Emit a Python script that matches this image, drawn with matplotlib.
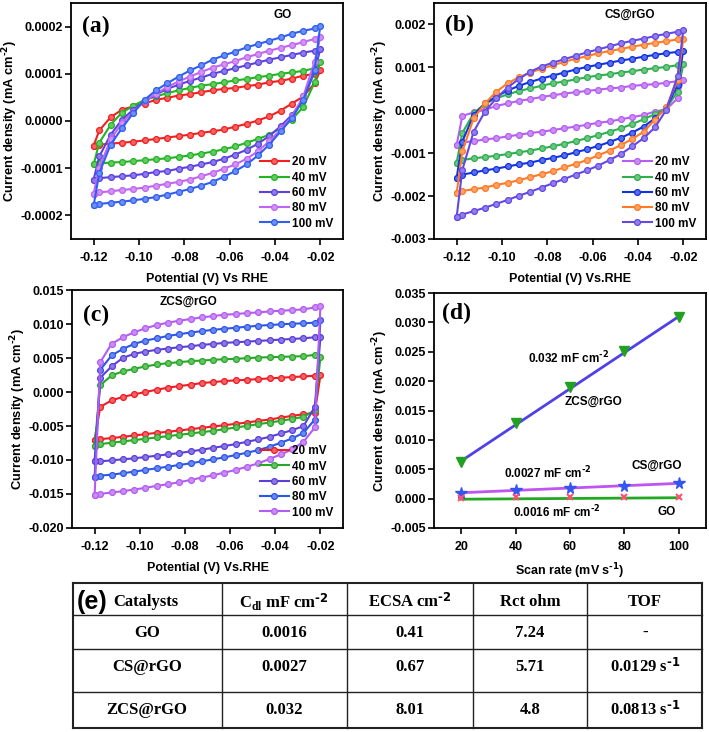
import numpy as np
import matplotlib
matplotlib.use("Agg")
import matplotlib.pyplot as plt
from matplotlib.ticker import MultipleLocator, FormatStrFormatter
from matplotlib.colors import to_rgb

plt.rcParams['font.family'] = ['Liberation Sans', 'DejaVu Sans']
plt.rcParams['font.weight'] = 'bold'
plt.rcParams['axes.labelweight'] = 'bold'
plt.rcParams['mathtext.default'] = 'regular'
plt.rcParams['axes.unicode_minus'] = False

# --- potential grid of the CV sweeps (V vs RHE) ---
E_FWD = [-0.1200, -0.1175, -0.1125, -0.1075, -0.1025, -0.0975, -0.0925, -0.0875,
         -0.0825, -0.0775, -0.0725, -0.0675, -0.0625, -0.0575, -0.0525, -0.0475,
         -0.0425, -0.0375, -0.0325, -0.0275, -0.0225, -0.0200]
E_REV = E_FWD[::-1][1:]
scan_labels = ["20 mV", "40 mV", "60 mV", "80 mV", "100 mV"]

# --- (a) GO, in 1e-4 mA cm-2 ---
go_fwd = [
    [-0.52, -0.20, 0.08, 0.24, 0.31, 0.37, 0.45, 0.49, 0.54, 0.57, 0.61, 0.65, 0.68, 0.70, 0.74, 0.77, 0.82, 0.85, 0.90, 0.96, 1.00, 1.07],
    [-0.92, -0.46, -0.08, 0.18, 0.32, 0.45, 0.52, 0.59, 0.65, 0.70, 0.75, 0.78, 0.82, 0.86, 0.89, 0.93, 0.96, 1.00, 1.03, 1.06, 1.12, 1.26],
    [-1.24, -0.75, -0.29, 0.03, 0.24, 0.42, 0.56, 0.68, 0.77, 0.85, 0.92, 1.00, 1.06, 1.12, 1.18, 1.24, 1.30, 1.35, 1.40, 1.45, 1.49, 1.52],
    [-1.54, -0.99, -0.39, -0.04, 0.20, 0.42, 0.58, 0.72, 0.84, 0.94, 1.04, 1.13, 1.20, 1.27, 1.35, 1.42, 1.49, 1.55, 1.61, 1.67, 1.74, 1.77],
    [-1.79, -1.10, -0.50, -0.15, 0.17, 0.45, 0.65, 0.80, 0.94, 1.07, 1.18, 1.30, 1.39, 1.47, 1.56, 1.63, 1.70, 1.77, 1.85, 1.91, 1.96, 2.02],
]
go_rev = [
    [0.80, 0.52, 0.37, 0.22, 0.10, 0.01, -0.06, -0.12, -0.18, -0.22, -0.25, -0.29, -0.32, -0.35, -0.38, -0.41, -0.44, -0.46, -0.48, -0.50, -0.52],
    [0.82, 0.30, 0.03, -0.15, -0.29, -0.38, -0.46, -0.54, -0.60, -0.65, -0.69, -0.73, -0.76, -0.79, -0.81, -0.83, -0.85, -0.87, -0.88, -0.90, -0.92],
    [1.05, 0.45, 0.13, -0.11, -0.32, -0.48, -0.61, -0.71, -0.80, -0.87, -0.92, -0.97, -1.01, -1.06, -1.08, -1.12, -1.15, -1.17, -1.19, -1.21, -1.24],
    [1.26, 0.52, 0.10, -0.18, -0.43, -0.64, -0.80, -0.92, -1.01, -1.10, -1.17, -1.24, -1.29, -1.33, -1.37, -1.41, -1.44, -1.46, -1.49, -1.51, -1.54],
    [1.08, 0.45, 0.06, -0.22, -0.50, -0.73, -0.92, -1.06, -1.18, -1.29, -1.37, -1.44, -1.50, -1.56, -1.61, -1.65, -1.68, -1.71, -1.73, -1.76, -1.79],
]
go_colors = ['#f02020', '#22b422', '#5a42e0', '#c064f2', '#2f5ef0']

# --- (b) CS@rGO, in 1e-3 mA cm-2 ---
cs_fwd = [
    [-0.81, -0.13, -0.05, 0.01, 0.10, 0.16, 0.22, 0.26, 0.31, 0.35, 0.39, 0.42, 0.45, 0.48, 0.51, 0.53, 0.57, 0.59, 0.61, 0.64, 0.68, 0.71],
    [-1.22, -0.53, -0.07, 0.15, 0.28, 0.37, 0.45, 0.51, 0.57, 0.63, 0.67, 0.72, 0.77, 0.81, 0.84, 0.88, 0.91, 0.95, 0.98, 1.01, 1.05, 1.07],
    [-1.58, -0.73, -0.11, 0.16, 0.32, 0.46, 0.57, 0.66, 0.74, 0.81, 0.88, 0.95, 1.01, 1.06, 1.11, 1.16, 1.20, 1.25, 1.29, 1.33, 1.36, 1.39],
    [-1.93, -0.96, -0.19, 0.16, 0.43, 0.63, 0.77, 0.88, 0.97, 1.05, 1.13, 1.20, 1.26, 1.33, 1.38, 1.43, 1.48, 1.53, 1.57, 1.61, 1.65, 1.67],
    [-2.49, -1.39, -0.50, -0.03, 0.28, 0.53, 0.73, 0.90, 1.02, 1.11, 1.19, 1.27, 1.35, 1.42, 1.49, 1.56, 1.62, 1.67, 1.73, 1.78, 1.83, 1.86],
]
cs_rev = [
    [0.28, 0.02, -0.03, -0.11, -0.16, -0.21, -0.26, -0.29, -0.34, -0.38, -0.42, -0.46, -0.50, -0.53, -0.57, -0.61, -0.65, -0.68, -0.72, -0.75, -0.81],
    [0.43, 0.05, -0.09, -0.21, -0.32, -0.42, -0.50, -0.58, -0.65, -0.72, -0.78, -0.84, -0.89, -0.94, -0.98, -1.02, -1.06, -1.09, -1.12, -1.16, -1.22],
    [0.59, 0.05, -0.19, -0.38, -0.52, -0.64, -0.74, -0.83, -0.91, -0.98, -1.05, -1.11, -1.16, -1.22, -1.26, -1.31, -1.36, -1.40, -1.45, -1.50, -1.58],
    [0.71, 0.07, -0.22, -0.50, -0.67, -0.81, -0.94, -1.05, -1.16, -1.25, -1.33, -1.42, -1.49, -1.56, -1.63, -1.69, -1.74, -1.80, -1.84, -1.88, -1.93],
    [0.80, 0.01, -0.40, -0.65, -0.84, -1.02, -1.16, -1.29, -1.40, -1.50, -1.60, -1.70, -1.80, -1.90, -1.99, -2.09, -2.18, -2.27, -2.35, -2.43, -2.49],
]
cs_colors = ['#b45ef2', '#2fae4f', '#1232e0', '#ff7a26', '#6448e4']

# --- (c) ZCS@rGO, in 1e-3 mA cm-2 ---
zcs_fwd = [
    [-7.07, -2.20, -1.22, -0.73, -0.34, 0.00, 0.34, 0.63, 0.88, 1.07, 1.32, 1.46, 1.61, 1.71, 1.80, 1.90, 2.00, 2.10, 2.20, 2.29, 2.39, 2.49],
    [-7.90, 0.98, 2.44, 3.02, 3.41, 3.76, 4.05, 4.24, 4.39, 4.54, 4.63, 4.73, 4.83, 4.88, 4.98, 5.07, 5.12, 5.17, 5.22, 5.27, 5.46, 5.12],
    [-10.1, 2.10, 3.76, 5.02, 5.61, 5.95, 6.20, 6.39, 6.59, 6.73, 6.93, 7.07, 7.22, 7.32, 7.41, 7.51, 7.61, 7.71, 7.80, 7.90, 8.05, 8.05],
    [-12.44, 3.27, 5.37, 6.34, 7.07, 7.56, 7.90, 8.25, 8.50, 8.75, 8.95, 9.15, 9.30, 9.45, 9.60, 9.75, 9.85, 9.95, 10.05, 10.10, 10.20, 10.60],
    [-15.22, 4.39, 7.07, 8.05, 8.78, 9.37, 9.85, 10.20, 10.49, 10.73, 10.98, 11.17, 11.37, 11.46, 11.61, 11.71, 11.85, 11.95, 12.05, 12.15, 12.44, 12.59],
]
zcs_rev = [
    [-3.07, -3.27, -3.51, -3.76, -4.05, -4.24, -4.49, -4.68, -4.88, -5.07, -5.27, -5.46, -5.66, -5.85, -6.00, -6.20, -6.39, -6.59, -6.78, -6.93, -7.07],
    [-2.68, -3.66, -3.95, -4.24, -4.49, -4.73, -4.98, -5.22, -5.46, -5.71, -5.90, -6.10, -6.29, -6.49, -6.68, -6.88, -7.07, -7.27, -7.46, -7.66, -7.90],
    [-2.20, -5.02, -5.61, -6.10, -6.59, -6.98, -7.32, -7.66, -7.95, -8.20, -8.49, -8.73, -8.98, -9.17, -9.37, -9.56, -9.76, -9.90, -10.05, -10.20, -10.10],
    [-4.05, -6.00, -6.83, -7.46, -8.05, -8.54, -8.93, -9.27, -9.61, -9.90, -10.20, -10.49, -10.73, -10.98, -11.22, -11.46, -11.71, -11.95, -12.15, -12.30, -12.44],
    [-5.22, -7.32, -8.44, -9.17, -9.85, -10.49, -10.98, -11.46, -11.85, -12.24, -12.59, -12.93, -13.27, -13.56, -13.80, -14.10, -14.34, -14.59, -14.78, -14.98, -15.22],
]
zcs_colors = ['#ee1c24', '#26a826', '#5b3fd8', '#2d55e8', '#b35cf2']

# --- (d) double-layer capacitance ---
scan_rate = [20, 40, 60, 80, 100]
j_zcs = [0.0062, 0.0128, 0.0190, 0.0251, 0.0310]
j_cs = [0.0009, 0.0014, 0.0018, 0.0022, 0.0027]
j_go = [0.0001, 0.0002, 0.0002, 0.0002, 0.0002]
fit_x = [20, 100]
fit_zcs = [0.0064, 0.0310]
fit_cs = [0.0010, 0.0026]
fit_go = [-0.0001, 0.00015]

# --- (e) table ---
tbl_header = ["Catalysts", r"C$_{dl}$ mF cm$^{\text{-2}}$", r"ECSA cm$^{\text{-2}}$", "Rct ohm", "TOF"]
tbl_catalyst = ["GO", "CS@rGO", "ZCS@rGO"]
tbl_cdl = ["0.0016", "0.0027", "0.032"]
tbl_ecsa = ["0.41", "0.67", "8.01"]
tbl_rct = ["7.24", "5.71", "4.8"]
tbl_tof = ["-", r"0.0129 s$^{\text{-1}}$", r"0.0813 s$^{\text{-1}}$"]

YLABEL = r"Current density (mA cm$^{\text{-2}}$)"


def light(c, f=0.3):
    r, g, b = to_rgb(c)
    return (r + (1 - r) * f, g + (1 - g) * f, b + (1 - b) * f)


def style_axes(ax):
    for s in ax.spines.values():
        s.set_linewidth(1.3)
    ax.tick_params(direction='out', length=4, width=1.2, labelsize=9)
    ax.tick_params(axis='x', pad=5.5)
    ax.tick_params(axis='y', pad=1.5)


def cv_panel(ax, fwd, rev, scale, colors, yfmt, ystep, ylim, xlabel, title, tx, letter, ly):
    for f, r, col, lab in zip(fwd, rev, colors, scan_labels):
        y = np.array(f + r) * scale
        ax.plot(E_FWD + E_REV, y, '-o', color=col, lw=1.5, ms=4.2,
                mfc=light(col), mec=col, mew=0.9, label=lab)
    ax.set_xlim(-0.13, -0.01)
    ax.set_ylim(*ylim)
    ax.xaxis.set_major_locator(MultipleLocator(0.02))
    ax.xaxis.set_major_formatter(FormatStrFormatter('%.2f'))
    ax.yaxis.set_major_locator(MultipleLocator(ystep))
    ax.yaxis.set_major_formatter(FormatStrFormatter(yfmt))
    ax.set_xlabel(xlabel, fontsize=9, labelpad=6)
    ax.set_ylabel(YLABEL, fontsize=9.3, labelpad=0.5)
    ax.text(tx, 0.95, title, transform=ax.transAxes, ha='center', va='center', fontsize=8.5)
    ax.text(0.04, ly, letter, transform=ax.transAxes, ha='left', va='center',
            fontsize=17, family='Liberation Serif', weight='bold')
    ax.legend(loc='lower right', frameon=False, fontsize=8.5, handlelength=2.4,
              labelspacing=0.28, borderaxespad=0.4, handletextpad=0.3)
    style_axes(ax)


fig = plt.figure(figsize=(7.09, 7.32), dpi=100)
ax_a = fig.add_axes([0.1001, 0.6735, 0.3836, 0.3224])
ax_b = fig.add_axes([0.6121, 0.6735, 0.3836, 0.3224])
ax_c = fig.add_axes([0.1016, 0.2787, 0.3822, 0.3251])
ax_d = fig.add_axes([0.6121, 0.2787, 0.3836, 0.3210])

cv_panel(ax_a, go_fwd, go_rev, 1e-4, go_colors, '%.4f', 0.0001, (-0.00025, 0.00025),
         "Potential (V) Vs RHE", "GO", 0.78, "(a)", 0.90)
cv_panel(ax_b, cs_fwd, cs_rev, 1e-3, cs_colors, '%.3f', 0.001, (-0.003, 0.0025),
         "Potential (V) Vs.RHE", "CS@rGO", 0.72, "(b)", 0.905)
cv_panel(ax_c, zcs_fwd, zcs_rev, 1e-3, zcs_colors, '%.3f', 0.005, (-0.020, 0.015),
         "Potential (V) Vs.RHE", "ZCS@rGO", 0.43, "(c)", 0.895)

# --- (d) ---
ax_d.plot(fit_x, fit_zcs, color='#5040e6', lw=2)
ax_d.plot(fit_x, fit_cs, color='#c054f0', lw=2)
ax_d.plot(fit_x, fit_go, color='#22a822', lw=2)
ax_d.plot(scan_rate, j_zcs, 'v', color='#22a022', ms=7.5)
ax_d.plot(scan_rate, j_cs, '*', color='#3455f0', ms=8.5)
ax_d.plot(scan_rate, j_go, 'x', color='#ff4f75', ms=5, mew=1.5)
ax_d.set_xlim(10, 110)
ax_d.set_ylim(-0.005, 0.035)
ax_d.xaxis.set_major_locator(MultipleLocator(20))
ax_d.yaxis.set_major_locator(MultipleLocator(0.005))
ax_d.yaxis.set_major_formatter(FormatStrFormatter('%.3f'))
ax_d.set_xlabel(r"Scan rate (mV s$^{\text{-1}}$)", fontsize=9, labelpad=6)
ax_d.set_ylabel(YLABEL, fontsize=9.3, labelpad=0.5)
ax_d.text(59.6, 0.0240, r"0.032 mF cm$^{\text{-2}}$", ha='center', va='center', fontsize=8.5)
ax_d.text(68.8, 0.0165, "ZCS@rGO", ha='center', va='center', fontsize=8.5)
ax_d.text(51.9, 0.0044, r"0.0027 mF cm$^{\text{-2}}$", ha='center', va='center', fontsize=8.5)
ax_d.text(92.0, 0.0056, "CS@rGO", ha='center', va='center', fontsize=8.5)
ax_d.text(55.2, -0.0023, r"0.0016 mF cm$^{\text{-2}}$", ha='center', va='center', fontsize=8.5)
ax_d.text(95.7, -0.0023, "GO", ha='center', va='center', fontsize=8.5)
ax_d.text(0.03, 0.915, "(d)", transform=ax_d.transAxes, ha='left', va='center',
          fontsize=17, family='Liberation Serif', weight='bold')
style_axes(ax_d)

# --- (e) table drawn in pixel coordinates ---
ax_t = fig.add_axes([0, 0, 1, 1], zorder=-1)
ax_t.set_xlim(0, 709)
ax_t.set_ylim(732, 0)
ax_t.axis('off')
col_edges = [73, 222, 347, 473, 587, 702]
row_edges = [583, 615, 649, 692, 728]
for i, x in enumerate(col_edges):
    lw = 1.5 if i in (0, len(col_edges) - 1) else 1.0
    ax_t.plot([x, x], [row_edges[0], row_edges[-1]], color='#222222', lw=lw)
for i, y in enumerate(row_edges):
    lw = 1.5 if i in (0, len(row_edges) - 1) else 1.0
    ax_t.plot([col_edges[0], col_edges[-1]], [y, y], color='#222222', lw=lw)

serif = dict(family='Liberation Serif', weight='bold', fontsize=12, ha='center', va='center')
col_cx = [147, 284, 410, 530, 645]
row_cy = [602, 633, 667, 710]
ax_t.text(77, row_cy[0], "(e)", fontsize=18, weight='bold', ha='left', va='center')
ax_t.text(113, row_cy[0], tbl_header[0], **{**serif, 'ha': 'left'})
for cx, h in zip(col_cx[1:], tbl_header[1:]):
    ax_t.text(cx, row_cy[0], h, **serif)
columns = [tbl_catalyst, tbl_cdl, tbl_ecsa, tbl_rct, tbl_tof]
for cx, col in zip(col_cx, columns):
    for cy, val in zip(row_cy[1:], col):
        ax_t.text(cx, cy, val, **serif)

fig.savefig("out.png", dpi=100)
